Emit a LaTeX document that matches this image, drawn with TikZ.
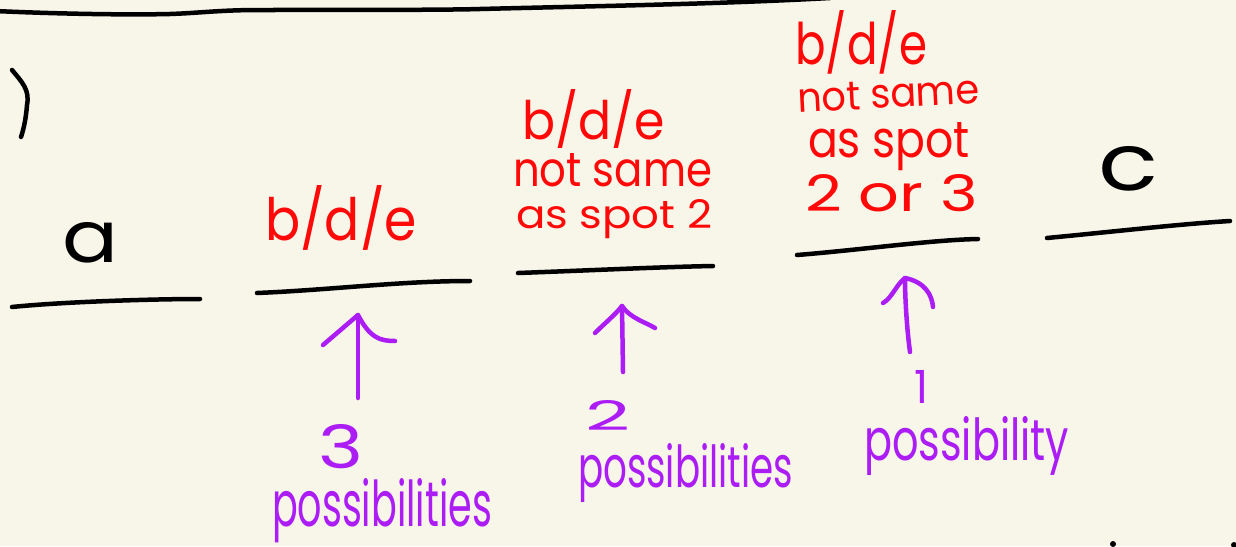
\documentclass[tikz,border=0pt]{standalone}
\usepackage{fontspec}
\setmainfont{Poppins}
\usepackage{graphicx}
\definecolor{bgc}{RGB}{248,245,233}
\definecolor{redink}{RGB}{255,8,8}
\definecolor{purpink}{RGB}{172,28,245}
\newcommand{\hw}[3]{\resizebox{#1pt}{#2pt}{#3}}
\tikzset{
  txt/.style={inner sep=0pt, outer sep=0pt, anchor=base west},
  blank/.style={line width=4.5pt, line cap=round, black},
  parrow/.style={line width=4.5pt, line cap=round, line join=round, purpink},
}
\begin{document}
\begin{tikzpicture}[x=1pt,y=1pt]
\fill[bgc] (0,0) rectangle (1236,-546);
\useasboundingbox (0,0) rectangle (1236,-546);
% top line
\draw[blank] (-5,-11) .. controls (60,-14) and (130,-15) .. (170,-14) .. controls (200,-13) and (220,-10) .. (260,-10) .. controls (350,-10) and (450,-10) .. (480,-9) .. controls (600,-6) and (720,-4) .. (830,2);
% bracket
\draw[blank] (12,-70) .. controls (22,-82) and (30,-90) .. (27,-105) .. controls (26,-118) and (24,-128) .. (21,-137);
% blanks
\draw[blank] (12,-307) .. controls (60,-302) and (150,-299) .. (200,-299);
\draw[blank] (257,-293) .. controls (330,-290) and (400,-281) .. (470,-281);
\draw[blank] (518,-273) .. controls (600,-270) and (660,-267) .. (713,-266);
\draw[blank] (797,-255) .. controls (860,-250) and (930,-240) .. (978,-239);
\draw[blank] (1047,-238) .. controls (1110,-232) and (1180,-224) .. (1230,-221);
% black letters
\node[txt] (a) at (62,-262) {\hw{56}{40}{a}};
\node[txt] (c) at (1098,-190) {\hw{60}{44}{c}};
% red texts
\node[txt, redink] (s2a) at (265,-240) {\hw{152}{55}{b/d/e}};
\node[txt, redink] (s3a) at (522,-139) {\hw{143}{50}{b/d/e}};
\node[txt, redink] (s3b) at (513,-186) {\hw{199}{33}{not same}};
\node[txt, redink] (s3c) at (516,-228) {\hw{196}{29}{as spot 2}};
\node[txt, redink] (s4a) at (795,-64) {\hw{132}{54}{b/d/e}};
\node[inner sep=0pt, anchor=base, rotate=3, redink] (s4b) at (889,-108) {\hw{182}{28}{not same}};
\node[txt, redink] (s4c) at (808,-157) {\hw{162}{35}{as spot}};
\node[txt, redink] (s4d) at (805,-211) {\hw{173}{37}{2 or 3}};
% purple arrows
\coordinate (t1) at (358,-315); \coordinate (b1) at (358,-398);
\draw[parrow] (b1) -- (t1);
\draw[parrow] (323,-345) -- (t1) .. controls (370,-338) and (380,-341) .. (395,-341);
\coordinate (t2) at (622,-306); \coordinate (b2) at (623,-372);
\draw[parrow] (b2) -- (t2);
\draw[parrow] (595,-333) .. controls (605,-323) and (615,-315) .. (t2) .. controls (630,-318) and (645,-322) .. (655,-328);
\coordinate (t3) at (905,-278); \coordinate (b3) at (910,-352);
\draw[parrow] (b3) .. controls (907,-330) and (905,-300) .. (t3);
\draw[parrow] (883,-303) .. controls (892,-298) and (896,-285) .. (t3) .. controls (925,-282) and (932,-295) .. (933,-307);
% purple texts
\node[txt, purpink] (n1) at (318,-468) {\hw{45}{44}{3}};
\node[txt, purpink] (p1) at (272,-526) {\hw{220}{48}{possibilities}};
\node[txt, purpink] (n2) at (585,-430) {\hw{45}{30}{2}};
\node[txt, purpink] (p2) at (578,-487) {\hw{215}{44}{possibilities}};
\node[txt, purpink] (n3) at (914,-403) {\hw{14}{33}{1}};
\node[txt, purpink] (p3) at (864,-460) {\hw{205}{44}{possibility}};
% stray marks at bottom edge
\fill[black] (1113,-544) circle (3);
\fill[black] (1234,-545) circle (3);
\end{tikzpicture}
\end{document}
